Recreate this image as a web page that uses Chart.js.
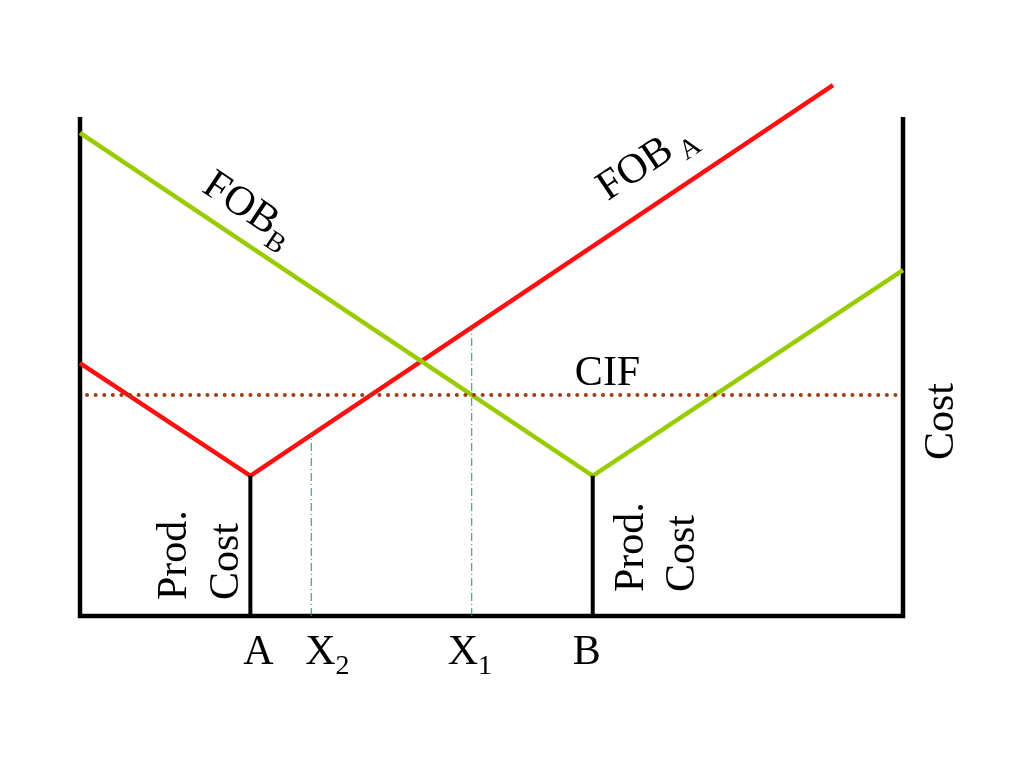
<!DOCTYPE html>
<html>
<head>
<meta charset="utf-8">
<script src="https://cdn.jsdelivr.net/npm/chart.js@4"></script>
<style>
  body { margin: 0; background: #fff; }
  #wrap { width: 1024px; height: 768px; position: relative; }
</style>
</head>
<body>
<div id="wrap"><canvas id="costChart"></canvas></div>
<script>
// distance along the line (0 = left edge, 100 = right edge), cost upward (0 = base line)
const frameX = [0, 0, 100, 100];
const frameY = [100, 0, 0, 100];

// delivered cost from A (FOB_A) and from B (FOB_B)
const fobAX = [0, 20.7, 91.5];
const fobAY = [50.7, 28.1, 106.4];
const fobBX = [0, 62.3, 100];
const fobBY = [96.8, 28.1, 69.3];

// CIF price level
const cifX = [0.85, 100];
const cifY = [44.3, 44.3];

// production cost bars at A and B
const prodX = [20.7, 62.3];
const prodCost = [28.1, 28.1];

// market points X2 and X1 (dash-dot guides up to FOB_A)
const guideX = [28.1, 47.6];
const guideTop = [36.5, 58];

// tick labels under the base line
const tickValues = [20.7, 28.1, 47.6, 62.3];
const tickNames = ['A', 'X', 'X', 'B'];
const tickSubs = ['', '2', '1', ''];

const toPoints = (xs, ys) => xs.map((v, i) => ({ x: v, y: ys[i] }));

function lineSet(data, color, width, extra) {
  return Object.assign({
    data,
    borderColor: color,
    borderWidth: width,
    pointRadius: 0,
    fill: false,
    tension: 0,
    clip: false,
  }, extra || {});
}

const datasets = [
  lineSet(toPoints(cifX, cifY), '#a0401a', 4, { borderDash: [0.1, 8.5], borderCapStyle: 'round' }),
  ...guideX.map((g, i) => lineSet(toPoints([g, g], [0, guideTop[i]]), '#2e8b57', 1, { borderDash: [8, 3, 1, 3] })),
  ...prodX.map((p, i) => lineSet(toPoints([p, p], [0, prodCost[i]]), '#000', 4)),
  lineSet(toPoints(fobBX, fobBY), '#99cc00', 4.5),
  lineSet(toPoints(fobAX, fobAY), '#ff1010', 4.5),
  lineSet(toPoints(frameX, frameY), '#000', 4.5, { borderJoinStyle: 'miter' }),
];

const serif = s => `${s}px "Liberation Serif", "Times New Roman", Times, serif`;

// text drawn at positions taken from the scales
const textPlugin = {
  id: 'sketchText',
  afterDatasetsDraw(chart) {
    const { ctx, scales: { x, y } } = chart;
    const base = y.getPixelForValue(0);
    ctx.save();
    ctx.fillStyle = '#000';
    ctx.textBaseline = 'alphabetic';

    // A, X2, X1, B
    const shift = [-7, -6, -24, -20];
    tickValues.forEach((v, i) => {
      const px = x.getPixelForValue(v) + shift[i];
      const py = base + 48;
      ctx.font = serif(42);
      ctx.textAlign = 'left';
      ctx.fillText(tickNames[i], px, py);
      if (tickSubs[i]) {
        const w = ctx.measureText(tickNames[i]).width;
        ctx.font = serif(28);
        ctx.fillText(tickSubs[i], px + w, py + 10);
      }
    });

    // rotated text helper (reads bottom to top)
    const upText = (txt, px, py, size) => {
      ctx.save();
      ctx.translate(px, py);
      ctx.rotate(-Math.PI / 2);
      ctx.font = serif(size);
      ctx.textAlign = 'left';
      ctx.fillText(txt, 0, 0);
      ctx.restore();
    };

    // Prod. Cost at A and B
    const ax = x.getPixelForValue(prodX[0]);
    const bx = x.getPixelForValue(prodX[1]);
    upText('Prod.', ax - 64, base - 16, 42);
    upText('Cost', ax - 12, base - 16, 42);
    upText('Prod.', bx + 50, base - 24, 42);
    upText('Cost', bx + 101, base - 24, 42);

    // Cost axis title on the right
    upText('Cost', x.getPixelForValue(100) + 50, base - 156, 42);

    // CIF
    ctx.font = serif(42);
    ctx.textAlign = 'center';
    ctx.fillText('CIF', x.getPixelForValue(64.1), y.getPixelForValue(46.3));

    // FOB labels along their lines
    const slopeLabel = (xs, ys, k, cx, cy, sub, gap) => {
      const dx = x.getPixelForValue(xs[k + 1]) - x.getPixelForValue(xs[k]);
      const dy = y.getPixelForValue(ys[k + 1]) - y.getPixelForValue(ys[k]);
      ctx.save();
      ctx.translate(x.getPixelForValue(cx), y.getPixelForValue(cy));
      ctx.rotate(Math.atan2(dy, dx));
      ctx.font = serif(42);
      ctx.textAlign = 'left';
      const w = ctx.measureText('FOB').width;
      ctx.fillText('FOB', -w / 2, 14);
      ctx.font = serif(28);
      ctx.fillText(sub, w / 2 + gap, 24);
      ctx.restore();
    };
    slopeLabel(fobBX, fobBY, 0, 19.7, 83.0, 'B', 0);
    slopeLabel(fobAX, fobAY, 1, 67.3, 90.0, 'A', 6);

    ctx.restore();
  }
};

new Chart(document.getElementById('costChart').getContext('2d'), {
  type: 'line',
  data: { datasets },
  options: {
    responsive: true,
    maintainAspectRatio: false,
    animation: false,
    layout: { padding: { left: 80, right: 121, top: 117, bottom: 152 } },
    scales: {
      x: { type: 'linear', min: 0, max: 100, display: false },
      y: { type: 'linear', min: 0, max: 100, display: false },
    },
    plugins: {
      legend: { display: false },
      tooltip: { enabled: false },
    },
  },
  plugins: [textPlugin],
});
</script>
</body>
</html>
